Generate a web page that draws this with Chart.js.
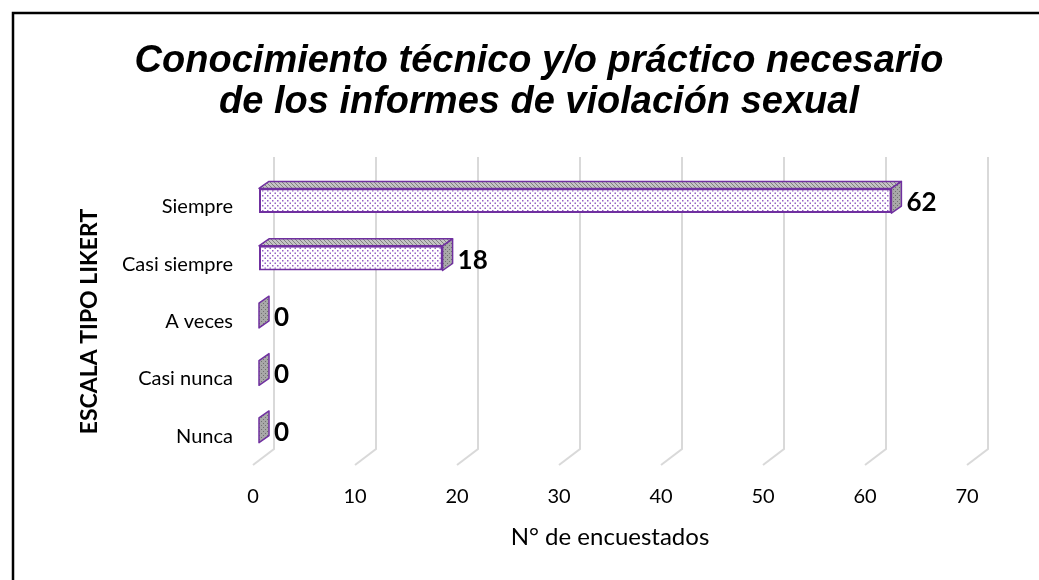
<!DOCTYPE html>
<html>
<head>
<meta charset="utf-8">
<script src="https://cdn.jsdelivr.net/npm/chart.js@4.4.1/dist/chart.umd.min.js"></script>
<style>
  html, body { margin: 0; padding: 0; background: #fff; }
  #wrap { width: 1039px; height: 580px; position: relative; }
</style>
</head>
<body>
<div id="wrap"><canvas id="c"></canvas></div>
<script>
// data
const categories = ['Siempre', 'Casi siempre', 'A veces', 'Casi nunca', 'Nunca'];
const encuestados = [62, 18, 0, 0, 0];
const xTicks = [0, 10, 20, 30, 40, 50, 60, 70];
const titleLines = ['Conocimiento técnico y/o práctico necesario', 'de los informes de violación sexual'];

const PURPLE = '#7030a0';
// depth of the 3d box (back wall) and of the bars
const WALL = { dx: 21, dy: -16 };
const BAR_FRONT = { dx: 6, dy: -6 };
const BAR_DEPTH = { dx: 10, dy: -7 };

function makePattern(w, h, bg, dots, dotColor) {
  const c = document.createElement('canvas');
  c.width = w; c.height = h;
  const g = c.getContext('2d');
  g.fillStyle = bg;
  g.fillRect(0, 0, w, h);
  g.fillStyle = dotColor;
  dots.forEach(d => g.fillRect(d[0], d[1], d[2] || 1.5, d[3] || 1.5));
  return g.createPattern(c, 'repeat');
}

const ctx = document.getElementById('c').getContext('2d');
const dotFill = makePattern(5, 5, '#ffffff', [[1, 1], [3.5, 3.5]], '#9460c4');
const topFill = makePattern(4, 4, '#c4c4c4', [[0, 0, 1, 1], [1, 1, 1, 1], [2, 2, 1, 1], [3, 3, 1, 1]], '#808080');
const sideFill = makePattern(4, 4, '#a8a8a8', [[1, 1, 1, 1], [3, 3, 1, 1]], '#707070');

const box3d = {
  id: 'box3d',
  beforeDraw(chart) {
    const c = chart.ctx;
    c.save();
    c.fillStyle = '#fff';
    c.fillRect(0, 0, chart.width, chart.height);
    // picture frame (only top and left visible)
    c.strokeStyle = '#000';
    c.lineWidth = 2.5;
    c.beginPath();
    c.moveTo(13, chart.height);
    c.lineTo(13, 13);
    c.lineTo(chart.width, 13);
    c.stroke();
    c.restore();
  },
  beforeDatasetsDraw(chart) {
    const c = chart.ctx;
    const xs = chart.scales.x;
    const a = chart.chartArea;
    c.save();
    c.strokeStyle = '#d9d9d9';
    c.lineWidth = 2;
    xTicks.forEach(v => {
      const xf = xs.getPixelForValue(v);
      c.beginPath();
      c.moveTo(xf + WALL.dx, a.top - 21);
      c.lineTo(xf + WALL.dx, a.bottom + WALL.dy);
      c.lineTo(xf, a.bottom);
      c.stroke();
    });
    c.restore();
    c.save();
    c.translate(BAR_FRONT.dx, BAR_FRONT.dy);
  },
  afterDatasetsDraw(chart) {
    const c = chart.ctx;
    c.restore();
    const meta = chart.getDatasetMeta(0);
    c.save();
    c.lineJoin = 'round';
    meta.data.forEach((el, i) => {
      const p = el.getProps(['x', 'y', 'base', 'height'], true);
      const x0 = p.base + BAR_FRONT.dx, x1 = p.x + BAR_FRONT.dx;
      const y0 = p.y - p.height / 2 + BAR_FRONT.dy, y1 = p.y + p.height / 2 + BAR_FRONT.dy;
      const dx = BAR_DEPTH.dx, dy = BAR_DEPTH.dy;
      c.strokeStyle = PURPLE;
      c.lineWidth = 1.5;
      if (x1 - x0 > 0.5) {
        c.beginPath();
        c.moveTo(x0, y0); c.lineTo(x1, y0); c.lineTo(x1 + dx, y0 + dy); c.lineTo(x0 + dx, y0 + dy);
        c.closePath();
        c.fillStyle = topFill; c.fill(); c.stroke();
      }
      c.beginPath();
      c.moveTo(x1, y0); c.lineTo(x1 + dx, y0 + dy); c.lineTo(x1 + dx, y1 + dy); c.lineTo(x1, y1);
      c.closePath();
      c.fillStyle = sideFill; c.fill(); c.stroke();
      // value label
      c.fillStyle = '#000';
      c.font = 'bold 26px Lato';
      c.textAlign = 'left';
      c.textBaseline = 'middle';
      c.fillText(String(encuestados[i]), p.x + 21, p.y - 4);
    });
    c.restore();
  }
};

new Chart(ctx, {
  type: 'bar',
  data: {
    labels: categories,
    datasets: [{
      data: encuestados,
      backgroundColor: dotFill,
      borderColor: PURPLE,
      borderWidth: 2,
      borderSkipped: false,
      barPercentage: 0.43,
      categoryPercentage: 1,
      clip: false
    }]
  },
  options: {
    indexAxis: 'y',
    responsive: true,
    maintainAspectRatio: false,
    animation: false,
    layout: { padding: { left: 39, right: 0, top: 0, bottom: 0 } },
    plugins: {
      legend: { display: false },
      tooltip: { enabled: false },
      title: {
        display: true,
        text: titleLines,
        color: '#000',
        font: { family: '"Liberation Sans", Arial', size: 38, style: 'italic', weight: 'bold', lineHeight: 1.08 },
        padding: { top: 41, bottom: 55 }
      }
    },
    scales: {
      x: {
        min: 0, max: 70,
        grid: { display: false, drawTicks: false },
        border: { display: false },
        ticks: { stepSize: 10, color: '#000', padding: 20, font: { family: 'Lato', size: 20 } },
        afterFit(s) { s.height = 115; },
        title: {
          display: true,
          text: 'N° de encuestados',
          color: '#000',
          font: { family: 'Lato', size: 24 },
          padding: { top: 28, bottom: 28 }
        }
      },
      y: {
        grid: { display: false, drawTicks: false },
        border: { display: false },
        ticks: { color: '#000', padding: 20, font: { family: 'Lato', size: 20 } },
        afterFit(s) { s.width = 214; },
        title: {
          display: true,
          text: 'ESCALA TIPO LIKERT',
          color: '#000',
          font: { family: 'Lato', size: 23, weight: 'bold' },
          padding: { top: 37, bottom: 37 }
        }
      },
      // empty right-hand strip that keeps the plot clear of the right edge
      yRight: {
        type: 'category',
        position: 'right',
        grid: { display: false, drawTicks: false },
        border: { display: false },
        ticks: { display: false },
        afterFit(s) { s.width = 72; }
      }
    }
  },
  plugins: [box3d]
});
</script>
</body>
</html>
